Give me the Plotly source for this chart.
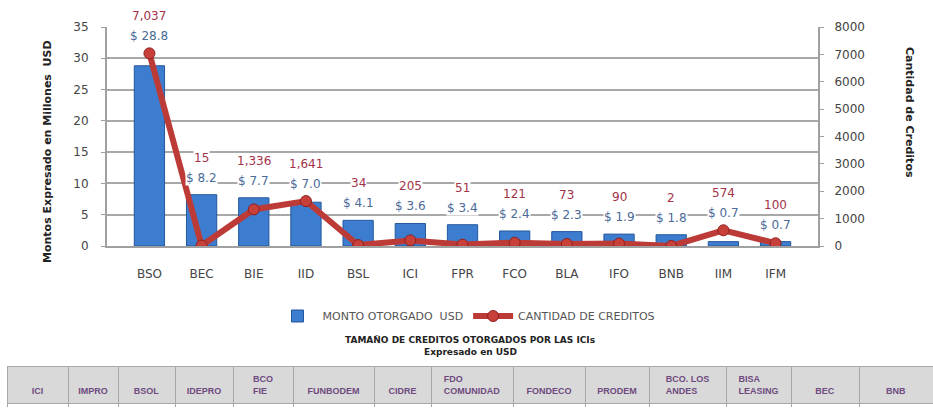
import plotly.graph_objects as go

W, H = 933, 408

categories = ["BSO", "BEC", "BIE", "IID", "BSL", "ICI", "FPR", "FCO", "BLA", "IFO", "BNB", "IIM", "IFM"]
montos = [28.8, 8.2, 7.7, 7.0, 4.1, 3.6, 3.4, 2.4, 2.3, 1.9, 1.8, 0.7, 0.7]
creditos = [7037, 15, 1336, 1641, 34, 205, 51, 121, 73, 90, 2, 574, 100]

left_ticks = [0, 5, 10, 15, 20, 25, 30, 35]
right_ticks = [0, 1000, 2000, 3000, 4000, 5000, 6000, 7000, 8000]

table_cols = ["ICI", "IMPRO", "BSOL", "IDEPRO", "BCO<br>FIE", "FUNBODEM", "CIDRE",
              "FDO<br>COMUNIDAD", "FONDECO", "PRODEM", "BCO. LOS<br>ANDES", "BISA<br>LEASING", "BEC", "BNB"]
table_vals = ["Tamaño", "1,196", "4,088", "4,281", "5,766", "6,584", "17,367",
              "20,134", "20,971", "66,326", "31,787", "120,277", "546,136", "924,532"]
col_widths = [61, 50, 57, 58, 60, 81, 57, 82, 72, 64, 77, 65, 68, 74]

def px_x(p):
    return p / W

def px_y(p):
    return 1 - p / H

BLUE = "#3C7DD0"
RED = "#BD3B36"
LBL_BLUE = "#4A6A98"
LBL_RED = "#A33348"
FONT = "DejaVu Sans"

fig = go.Figure()

fig.add_trace(go.Bar(
    x=categories, y=montos, name="MONTO OTORGADO  USD",
    marker=dict(color=BLUE, line=dict(color="#24579A", width=1)),
    width=0.58, yaxis="y",
))
fig.add_trace(go.Scatter(
    x=categories, y=creditos, name="CANTIDAD DE CREDITOS",
    mode="lines+markers", yaxis="y2",
    line=dict(color=RED, width=6),
    marker=dict(color="#C8403A", size=11, line=dict(color="#8E1E1E", width=1)),
))

annotations = []
for c, m, n in zip(categories, montos, creditos):
    base = max(m, n * 35 / 8000)
    annotations.append(dict(
        x=c, y=base, xref="x", yref="y", yshift=17, text=f"$ {m:.1f}",
        showarrow=False, bgcolor="white", borderpad=0,
        font=dict(family=FONT, size=12, color=LBL_BLUE)))
    annotations.append(dict(
        x=c, y=base, xref="x", yref="y", yshift=37, text=f"{n:,}",
        showarrow=False, bgcolor="white", borderpad=0,
        font=dict(family=FONT, size=12, color=LBL_RED)))

def paper_note(x, y, text, size, angle=0):
    return dict(x=px_x(x), y=px_y(y), xref="paper", yref="paper",
                xanchor="center", yanchor="middle", text=text, textangle=angle,
                showarrow=False, font=dict(family=FONT, size=size, color="#222"))

annotations.append(paper_note(47, 152, "<b>Montos Expresado en Millones  USD</b>", 11, -90))
annotations.append(paper_note(910, 112, "<b>Cantidad de Creditos</b>", 11, 90))
annotations.append(paper_note(470, 340, "<b>TAMAÑO DE CREDITOS OTORGADOS POR LAS ICIs</b>", 9))
annotations.append(paper_note(470, 352, "<b>Expresado en USD</b>", 9))

fig.add_trace(go.Table(
    domain=dict(x=[px_x(7), 1], y=[0, px_y(366)]),
    columnwidth=col_widths,
    header=dict(values=[f"<b>{v}</b>" if "<br>" in v else f"&nbsp;<br><b>{v}</b>" for v in table_cols],
                fill_color="#D9D9D9", line_color="#A8A8A8",
                font=dict(family="Liberation Sans", size=9, color="#6E4A80"),
                align="center", height=26),
    cells=dict(values=[[v] for v in table_vals],
               fill_color="white", line_color="#A8A8A8",
               font=dict(family="Liberation Sans", size=9, color="#6E4A80"),
               align=["center"] + ["right"] * 13, height=18),
))

fig.update_layout(
    width=W, height=H,
    margin=dict(l=0, r=0, t=0, b=0),
    paper_bgcolor="white", plot_bgcolor="white",
    font=dict(family=FONT, size=12, color="#333"),
    xaxis=dict(domain=[px_x(107), px_x(818)], tickfont=dict(size=12, color="#444"),
               showline=True, linecolor="#A0A0A0", linewidth=2, ticks="",
               ticklabelstandoff=16, automargin=False),
    yaxis=dict(range=[0, 35], tickvals=left_ticks, domain=[px_y(246), px_y(27)],
               showgrid=True, gridcolor="#A8A8A8", gridwidth=2,
               showline=True, linecolor="#A0A0A0", linewidth=2,
               ticks="outside", ticklen=4, tickcolor="#A0A0A0", ticklabelstandoff=10,
               tickfont=dict(size=12, color="#444"), zeroline=False, automargin=False),
    yaxis2=dict(range=[0, 8000], tickvals=right_ticks, overlaying="y", side="right",
                showgrid=False, showline=True, linecolor="#A0A0A0", linewidth=2,
                ticks="outside", ticklen=4, tickcolor="#A0A0A0", ticklabelstandoff=8,
                tickfont=dict(size=12, color="#444"), zeroline=False, automargin=False),
    legend=dict(orientation="h", x=0.5, xanchor="center", y=px_y(316), yanchor="middle",
                font=dict(family=FONT, size=11, color="#555"), itemwidth=40,
                bgcolor="rgba(0,0,0,0)"),
    annotations=annotations,
)

fig.write_html("out.html", config={"displayModeBar": False},
               post_script="document.body.style.margin='0';document.body.style.overflow='hidden';")
